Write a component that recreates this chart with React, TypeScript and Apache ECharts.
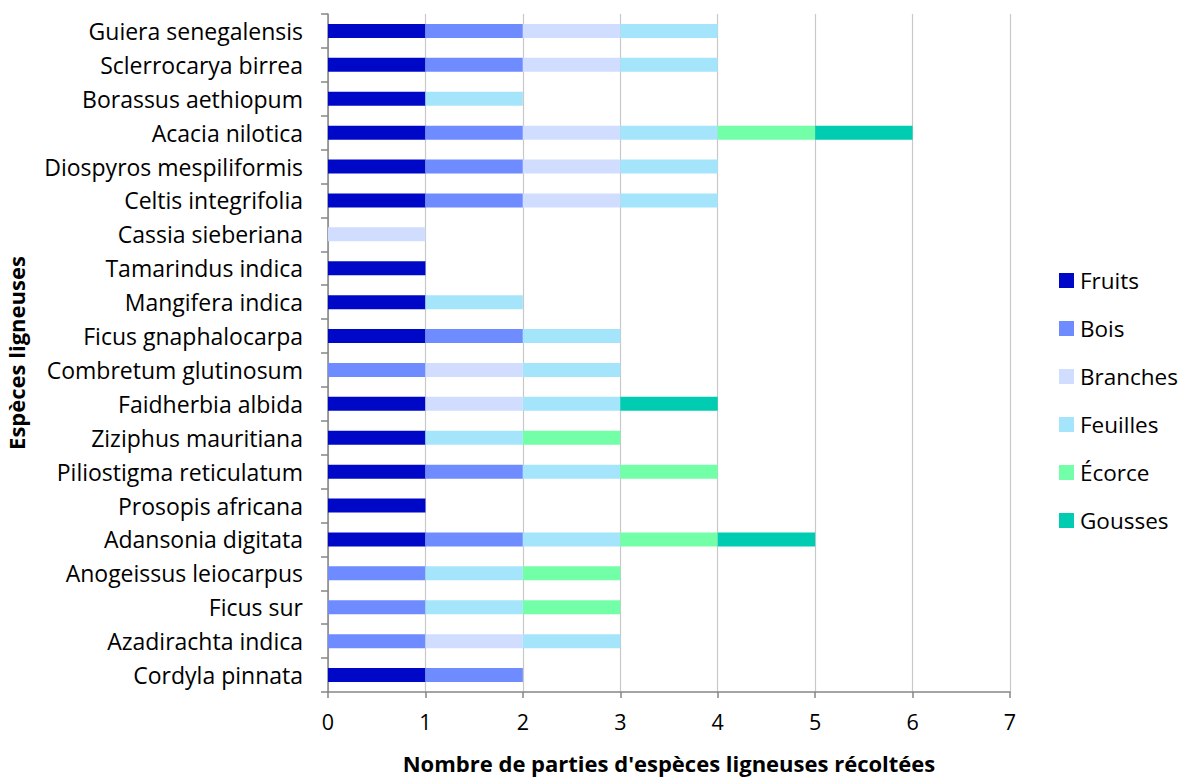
import React, { useEffect, useRef } from "react";
import * as echarts from "echarts";

// Categories listed top to bottom (yAxis is inverted)
const species = [
  "Guiera senegalensis",
  "Sclerrocarya birrea",
  "Borassus aethiopum",
  "Acacia nilotica",
  "Diospyros mespiliformis",
  "Celtis integrifolia",
  "Cassia sieberiana",
  "Tamarindus indica",
  "Mangifera indica",
  "Ficus gnaphalocarpa",
  "Combretum glutinosum",
  "Faidherbia albida",
  "Ziziphus mauritiana",
  "Piliostigma reticulatum",
  "Prosopis africana",
  "Adansonia digitata",
  "Anogeissus leiocarpus",
  "Ficus sur",
  "Azadirachta indica",
  "Cordyla pinnata",
];

const fruits = [1, 1, 1, 1, 1, 1, 0, 1, 1, 1, 0, 1, 1, 1, 1, 1, 0, 0, 0, 1];
const bois = [1, 1, 0, 1, 1, 1, 0, 0, 0, 1, 1, 0, 0, 1, 0, 1, 1, 1, 1, 1];
const branches = [1, 1, 0, 1, 1, 1, 1, 0, 0, 0, 1, 1, 0, 0, 0, 0, 0, 0, 1, 0];
const feuilles = [1, 1, 1, 1, 1, 1, 0, 0, 1, 1, 1, 1, 1, 1, 0, 1, 1, 1, 1, 0];
const ecorce = [0, 0, 0, 1, 0, 0, 0, 0, 0, 0, 0, 0, 1, 1, 0, 1, 1, 1, 0, 0];
const gousses = [0, 0, 0, 1, 0, 0, 0, 0, 0, 0, 0, 1, 0, 0, 0, 1, 0, 0, 0, 0];

const seriesNames = ["Fruits", "Bois", "Branches", "Feuilles", "Écorce", "Gousses"];
const seriesColors = ["#0008C8", "#6E8BFF", "#D1DDFE", "#A4E5FC", "#73FFA7", "#00CCB1"];
const seriesData = [fruits, bois, branches, feuilles, ecorce, gousses];

const xTicks = [0, 1, 2, 3, 4, 5, 6, 7];

const FONT = "'Open Sans', 'Noto Sans', sans-serif";

export default function App() {
  const ref = useRef<HTMLDivElement>(null);
  useEffect(() => {
    if (!ref.current) return;
    const chart = echarts.init(ref.current, undefined, { renderer: "svg" });
    chart.setOption({
      animation: false,
      backgroundColor: "#ffffff",
      textStyle: { fontFamily: FONT },
      grid: {
        left: 328,
        right: 173,
        top: 14,
        bottom: 86,
        containLabel: false,
        outerBoundsMode: "none",
      },
      legend: {
        orient: "vertical",
        left: 1054,
        top: 264,
        itemWidth: 15,
        itemHeight: 15,
        itemGap: 25,
        icon: "rect",
        data: seriesNames,
        textStyle: { fontSize: 22.5, color: "#000", fontFamily: FONT, lineHeight: 23, padding: [0, 0, 0, 1] },
      },
      xAxis: {
        type: "value",
        min: xTicks[0],
        max: xTicks[xTicks.length - 1],
        interval: 1,
        name: "Nombre de parties d'espèces ligneuses récoltées",
        nameLocation: "middle",
        nameGap: 59,
        nameTextStyle: { fontSize: 22, fontWeight: "bold", color: "#000", fontFamily: FONT, lineHeight: 24 },
        axisLine: { show: true, lineStyle: { color: "#868686", width: 1.5 } },
        axisTick: { show: true, length: 6, lineStyle: { color: "#868686", width: 1.5 } },
        axisLabel: { fontSize: 21.5, color: "#000", margin: 18, fontFamily: FONT },
        splitLine: { show: true, lineStyle: { color: "#c8c8c8", width: 1.2 } },
      },
      yAxis: {
        type: "category",
        data: species,
        inverse: true,
        name: "Espèces ligneuses",
        nameLocation: "middle",
        nameGap: 300,
        nameTextStyle: { fontSize: 22, fontWeight: "bold", color: "#000", fontFamily: FONT, lineHeight: 24 },
        axisLine: { show: true, lineStyle: { color: "#868686", width: 1.5 } },
        axisTick: { show: true, length: 7, lineStyle: { color: "#868686", width: 1.5 } },
        axisLabel: { fontSize: 23, color: "#000", margin: 25, fontFamily: FONT },
      },
      series: seriesNames.map((name, i) => ({
        name,
        type: "bar",
        stack: "total",
        barWidth: 14,
        data: seriesData[i],
        itemStyle: { color: seriesColors[i] },
      })),
    });
    return () => chart.dispose();
  }, []);
  return (
    <div
      ref={ref}
      style={{ position: "absolute", left: 0, top: 0, width: 1183, height: 778 }}
    />
  );
}
